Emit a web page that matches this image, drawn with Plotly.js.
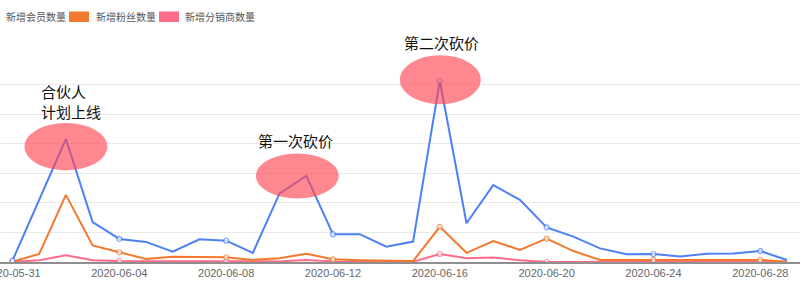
<!DOCTYPE html>
<html>
<head>
<meta charset="utf-8">
<script src="https://cdn.plot.ly/plotly-3.0.1.min.js"></script>
<style>html,body{margin:0;padding:0;background:#fff;}#chart{width:800px;height:284px;}</style>
</head>
<body>
<div id="chart"></div>
<script>
// ---- data ----
const dates = ["2020-05-31","2020-06-01","2020-06-02","2020-06-03","2020-06-04","2020-06-05","2020-06-06","2020-06-07","2020-06-08","2020-06-09","2020-06-10","2020-06-11","2020-06-12","2020-06-13","2020-06-14","2020-06-15","2020-06-16","2020-06-17","2020-06-18","2020-06-19","2020-06-20","2020-06-21","2020-06-22","2020-06-23","2020-06-24","2020-06-25","2020-06-26","2020-06-27","2020-06-28","2020-06-29"];
const seriesNames = ["新增会员数量","新增粉丝数量","新增分销商数量"];
const members = [5,210,416,135,78,68,35,77,72,31,232,291,94,94,52,69,613,131,260,210,117,86,46,26,27,19,28,29,37,7];
const fans = [1,27,227,56,33,10,18,18,16,7,13,28,9,6,5,3,119,31,71,41,79,37,7,7,7,7,7,7,7,1];
const dealers = [0,6,23,6,3,3,3,2,3,2,2,7,2,1,1,1,27,13,15,6,0,1,1,1,1,1,1,1,1,1];
const notes = [
  {text:"合伙人<br>计划上线", date:"2020-06-02", series:0},
  {text:"第一次砍价", date:"2020-06-11", series:0},
  {text:"第二次砍价", date:"2020-06-16", series:0}
];

// ---- styling ----
const colors = ["#4d80f6","#f2792d","#ff6b8b"];
const seriesData = [members, fans, dealers];
const markerSizes = dates.map((d,i)=> i % 4 === 0 ? 5 : 0);

const traces = seriesData.map((vals, k) => ({
  x: dates, y: vals, name: seriesNames[k], type: "scatter", mode: "lines+markers",
  line: {color: colors[k], width: 2},
  marker: {size: markerSizes, color: "#ffffff", line: {color: colors[k], width: 1.2}},
  showlegend: false, hoverinfo: "skip"
})).reverse();

function valOf(n){ return seriesData[n.series][dates.indexOf(n.date)]; }

// ellipse / label offsets (pixels relative to the annotated data point)
const ellipseOffsets = [
  {x0:-41.5, x1:41.5, y0:-31.4, y1:16},
  {x0:-50.5, x1:32.5, y0:-22.5, y1:22.5},
  {x0:-40, x1:41, y0:-23.5, y1:25.5}
];
const labelOffsets = [
  {xshift:-27, yshift:37, xanchor:"left", align:"left"},
  {xshift:-10.5, yshift:35, xanchor:"center", align:"center"},
  {xshift:2, yshift:38.5, xanchor:"center", align:"center"}
];

const shapes = notes.map((n,i)=>({
  type:"circle", layer:"above", xref:"x", yref:"y",
  xsizemode:"pixel", ysizemode:"pixel",
  xanchor:n.date, yanchor:valOf(n),
  x0:ellipseOffsets[i].x0, x1:ellipseOffsets[i].x1,
  y0:ellipseOffsets[i].y0, y1:ellipseOffsets[i].y1,
  fillcolor:"rgba(255,70,85,0.65)", line:{width:0}
}));

const annotations = notes.map((n,i)=>({
  x:n.date, y:valOf(n), xref:"x", yref:"y", text:n.text, showarrow:false,
  xanchor:labelOffsets[i].xanchor, yanchor:"middle", align:labelOffsets[i].align,
  xshift:labelOffsets[i].xshift, yshift:labelOffsets[i].yshift,
  font:{family:"Noto Sans CJK SC, sans-serif", size:15, color:"#111111"}
}));

// custom legend (boxes + texts) in paper coordinates
const plotTop = 55, plotBottom = 262, W = 800;
const py = p => (plotBottom - p) / (plotBottom - plotTop);
const legendBoxes = [[-21,-0.6],[69,89],[159,179]];
const legendTextX = [4,94,183];
legendBoxes.forEach((b,k)=>{
  shapes.push({type:"rect", xref:"paper", yref:"paper", x0:b[0]/W, x1:b[1]/W,
    y0:py(22), y1:py(11.5), fillcolor:colors[k], line:{width:0}, layer:"above"});
  annotations.push({xref:"paper", yref:"paper", x:legendTextX[k]/W, y:py(16.8),
    xanchor:"left", yanchor:"middle", showarrow:false, text:seriesNames[k],
    font:{family:"Noto Sans CJK SC, sans-serif", size:10, color:"#555555"}});
});

const layout = {
  width: 800, height: 284,
  margin: {l:0, r:0, t:plotTop, b:284-plotBottom, pad:0},
  paper_bgcolor:"#ffffff", plot_bgcolor:"#ffffff",
  showlegend:false,
  xaxis: {
    type:"date", range:["2020-05-30 12:46","2020-06-29 11:41"],
    tick0:"2020-05-31", dtick:4*86400000, tickformat:"%Y-%m-%d",
    ticklabeloverflow:"allow",
    showgrid:false, zeroline:false, showline:true, linecolor:"#8f8f8f", linewidth:1.5,
    ticks:"", tickfont:{family:"Helvetica Neue, Arial, Liberation Sans, sans-serif", size:11, color:"#666666"}
  },
  yaxis: {
    range:[0,700], dtick:100, showticklabels:false, showgrid:true,
    gridcolor:"#e9e9e9", gridwidth:1, zeroline:false, showline:false, ticks:""
  },
  shapes: shapes,
  annotations: annotations
};

Plotly.newPlot("chart", traces, layout, {staticPlot:true, displayModeBar:false});
</script>
</body>
</html>
